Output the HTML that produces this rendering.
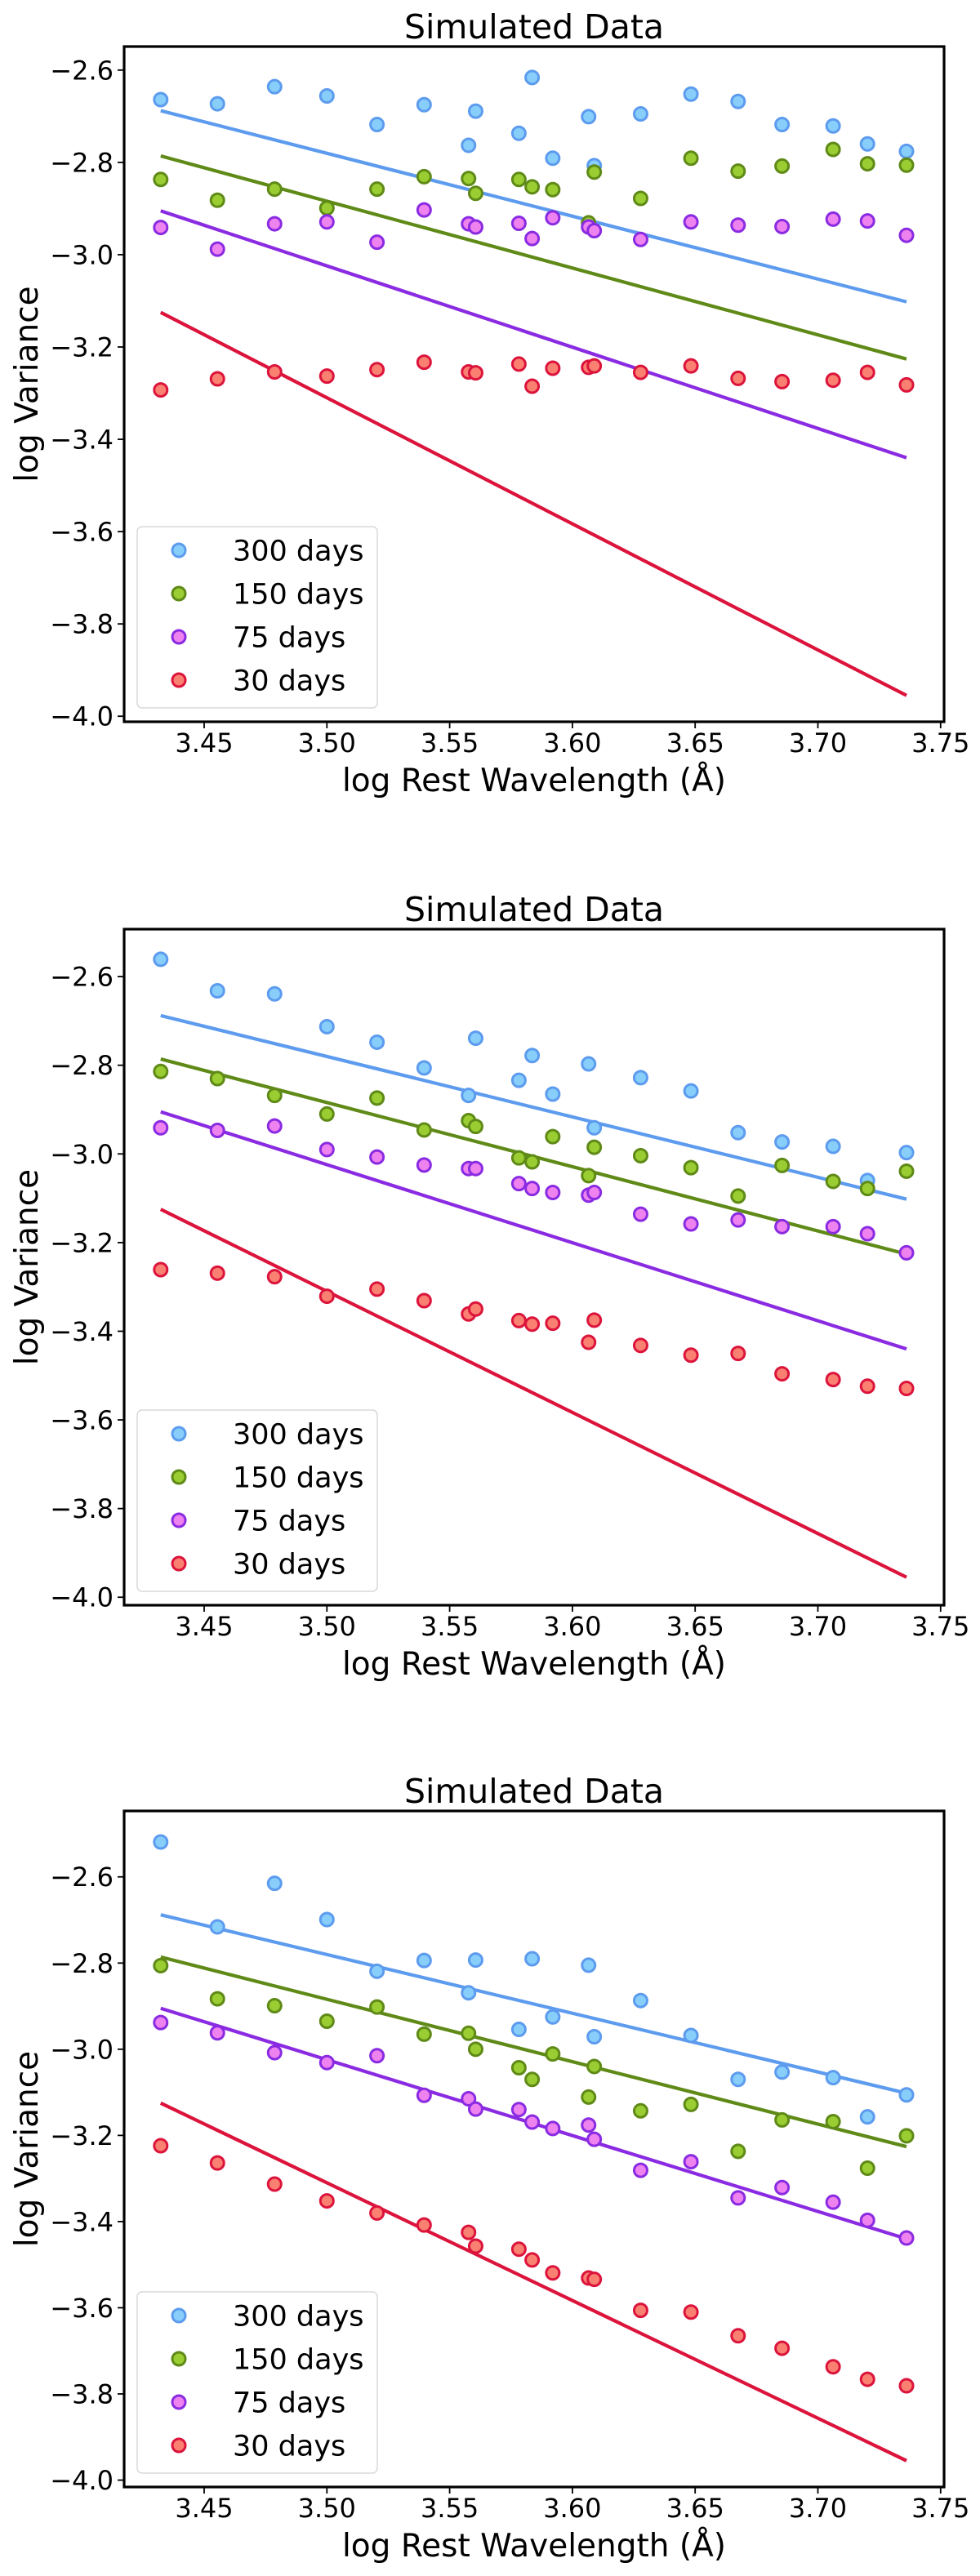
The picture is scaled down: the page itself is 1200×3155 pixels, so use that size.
<!DOCTYPE html>
<html><head><meta charset="utf-8">
<style>
html,body{margin:0;padding:0;background:#fff;}
svg{display:block;}
text{font-family:"DejaVu Sans","Liberation Sans",sans-serif;fill:#000;}
</style></head>
<body>
<svg id="fig" width="1200" height="3155" viewBox="0 0 1200 3155" xmlns="http://www.w3.org/2000/svg"></svg>
<script>
const xVals = [3.4323,3.4554,3.4787,3.5000,3.5204,3.5396,3.5577,3.5606,3.5782,3.5836,3.5920,3.6066,3.6089,3.6278,3.6483,3.6675,3.6854,3.7062,3.7202,3.7361];
const seriesNames = ["300 days","150 days","75 days","30 days"];
const fitStart = [-2.688,-2.786,-2.905,-3.125];
const fitEnd = [-3.102,-3.226,-3.440,-3.955];
const xTicks = [3.45,3.50,3.55,3.60,3.65,3.70,3.75];
const xTickLabels = ["3.45","3.50","3.55","3.60","3.65","3.70","3.75"];
const yTicks = [-2.6,-2.8,-3.0,-3.2,-3.4,-3.6,-3.8,-4.0];
const yTickLabels = ["\u22122.6","\u22122.8","\u22123.0","\u22123.2","\u22123.4","\u22123.6","\u22123.8","\u22124.0"];

const p1_300 = [-2.664,-2.673,-2.636,-2.656,-2.718,-2.675,-2.763,-2.689,-2.737,-2.616,-2.791,-2.701,-2.807,-2.695,-2.652,-2.668,-2.718,-2.721,-2.760,-2.776];
const p1_150 = [-2.837,-2.882,-2.858,-2.899,-2.858,-2.831,-2.835,-2.867,-2.837,-2.853,-2.859,-2.931,-2.821,-2.878,-2.791,-2.819,-2.808,-2.772,-2.803,-2.806];
const p1_75 = [-2.941,-2.988,-2.933,-2.929,-2.973,-2.903,-2.933,-2.940,-2.932,-2.965,-2.920,-2.940,-2.948,-2.967,-2.929,-2.936,-2.939,-2.923,-2.927,-2.958];
const p1_30 = [-3.293,-3.269,-3.254,-3.263,-3.249,-3.233,-3.254,-3.256,-3.237,-3.285,-3.246,-3.244,-3.241,-3.255,-3.241,-3.268,-3.275,-3.272,-3.255,-3.282];

const p2_300 = [-2.561,-2.632,-2.639,-2.713,-2.748,-2.806,-2.868,-2.739,-2.834,-2.778,-2.865,-2.797,-2.941,-2.828,-2.858,-2.952,-2.973,-2.983,-3.060,-2.997];
const p2_150 = [-2.814,-2.830,-2.868,-2.910,-2.874,-2.946,-2.925,-2.938,-3.009,-3.018,-2.961,-3.049,-2.985,-3.004,-3.031,-3.095,-3.026,-3.062,-3.078,-3.039];
const p2_75 = [-2.941,-2.947,-2.937,-2.990,-3.007,-3.025,-3.033,-3.033,-3.067,-3.078,-3.087,-3.093,-3.087,-3.136,-3.158,-3.149,-3.164,-3.164,-3.180,-3.223];
const p2_30 = [-3.261,-3.269,-3.277,-3.321,-3.305,-3.331,-3.361,-3.350,-3.376,-3.384,-3.382,-3.425,-3.375,-3.432,-3.454,-3.450,-3.496,-3.509,-3.524,-3.529];

const p3_300 = [-2.519,-2.716,-2.615,-2.699,-2.819,-2.794,-2.869,-2.793,-2.954,-2.790,-2.925,-2.805,-2.971,-2.887,-2.968,-3.070,-3.053,-3.066,-3.157,-3.106];
const p3_150 = [-2.806,-2.883,-2.899,-2.935,-2.902,-2.965,-2.963,-3.000,-3.043,-3.070,-3.011,-3.111,-3.040,-3.143,-3.128,-3.237,-3.164,-3.168,-3.276,-3.201];
const p3_75 = [-2.938,-2.962,-3.008,-3.031,-3.015,-3.107,-3.115,-3.139,-3.140,-3.169,-3.184,-3.176,-3.209,-3.281,-3.261,-3.345,-3.321,-3.355,-3.397,-3.438];
const p3_30 = [-3.224,-3.264,-3.313,-3.352,-3.380,-3.408,-3.425,-3.457,-3.464,-3.489,-3.519,-3.531,-3.534,-3.606,-3.610,-3.665,-3.694,-3.737,-3.766,-3.781];

const lineColors = ["#5d9bef","#5f8a17","#8a2be2","#dc143c"];
const fillColors = ["#87cefa","#9acd32","#ee82ee","#fa8072"];

const NS = "http://www.w3.org/2000/svg";
const fig = document.getElementById("fig");
function mk(tag, attrs, parent){
  const e = document.createElementNS(NS, tag);
  for (const k in attrs) e.setAttribute(k, attrs[k]);
  (parent||fig).appendChild(e);
  return e;
}

const panels = [
  {top:57, bottom:884, ymax:-2.549, ymin:-4.012, data:[p1_300,p1_150,p1_75,p1_30]},
  {top:1138, bottom:1966, ymax:-2.493, ymin:-4.018, data:[p2_300,p2_150,p2_75,p2_30]},
  {top:2218, bottom:3046, ymax:-2.447, ymin:-4.016, data:[p3_300,p3_150,p3_75,p3_30]}
];
const L = 152, R = 1156, XMIN = 3.4174, XMAX = 3.7514;

panels.forEach((p, pi) => {
  const g = mk("g", {});
  
  
  const xs = v => L + (v - XMIN) / (XMAX - XMIN) * (R - L);
  const ys = v => p.top + (p.ymax - v) / (p.ymax - p.ymin) * (p.bottom - p.top);

  const t = mk("text", {x:(L+R)/2, y:p.top-10, "text-anchor":"middle", "font-size":"41"}, g);
  t.textContent = "Simulated Data";
  
  

  for (let s = 0; s < 4; s++) {
    const ln = mk("line", {x1:xs(xVals[0]), y1:ys(fitStart[s]), x2:xs(xVals[xVals.length-1]), y2:ys(fitEnd[s]), stroke:lineColors[s], "stroke-width":"4.2"}, g);
    
    
  }
  for (let s = 0; s < 4; s++) {
    const arr = p.data[s];
    for (let i = 0; i < arr.length; i++) {
      const c = mk("circle", {cx:xs(xVals[i]), cy:ys(arr[i]), r:"8", fill:fillColors[s], stroke:lineColors[s], "stroke-width":"3"}, g);
      
      
    }
  }
  xTicks.forEach((v, i) => {
    const x = xs(v);
    mk("line", {x1:x, y1:p.bottom, x2:x, y2:p.bottom+8, stroke:"#000", "stroke-width":"1.8"}, g);
    const tl = mk("text", {x:x, y:p.bottom+37, "text-anchor":"middle", "font-size":"32"}, g);
    tl.textContent = xTickLabels[i];
    
    
  });
  yTicks.forEach((v, i) => {
    const y = ys(v);
    mk("line", {x1:L-8, y1:y, x2:L, y2:y, stroke:"#000", "stroke-width":"1.8"}, g);
    const tl = mk("text", {x:L-13, y:y+11.5, "text-anchor":"end", "font-size":"32"}, g);
    tl.textContent = yTickLabels[i];
    
    
  });
  const fr = mk("rect", {x:L, y:p.top, width:R-L, height:p.bottom-p.top, fill:"none", stroke:"#000", "stroke-width":"3.2"}, g);
  
  

  const xl = mk("text", {x:(L+R)/2, y:p.bottom+85, "text-anchor":"middle", "font-size":"39"}, g);
  xl.textContent = "log Rest Wavelength (\u00C5)";
  
  
  const yl = mk("text", {x:0, y:0, "text-anchor":"middle", "font-size":"39", transform:"translate(46," + ((p.top+p.bottom)/2) + ") rotate(-90)"}, g);
  yl.textContent = "log Variance";
  
  

  const lg = mk("g", {}, g);
  
  
  const lb = p.bottom - 17;
  mk("rect", {x:168, y:lb-222, width:294, height:222, rx:"6", fill:"#fff", "fill-opacity":"0.85", stroke:"#d8d8d8", "stroke-width":"1.5"}, lg);
  for (let s = 0; s < 4; s++) {
    const ry = lb - 193 + s*53;
    const e = mk("g", {}, lg);
    
    
    mk("circle", {cx:219, cy:ry, r:"8", fill:fillColors[s], stroke:lineColors[s], "stroke-width":"3"}, e);
    const lt = mk("text", {x:285, y:ry+12.5, "font-size":"35"}, e);
    lt.textContent = seriesNames[s];
  }
});
</script>
</body></html>
